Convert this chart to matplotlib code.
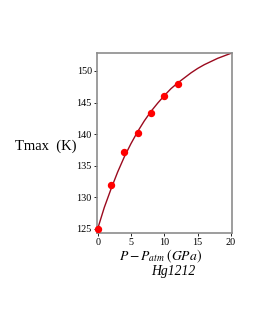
import matplotlib
matplotlib.use("Agg")
import matplotlib.pyplot as plt

# measured points
p_data = [0, 2, 4, 6, 8, 10, 12]
t_data = [125.0, 132.0, 137.1, 140.2, 143.4, 146.1, 148.0]

# fitted curve
p_curve = list(range(0, 21))
t_curve = [125.0, 128.4, 131.3, 134.0, 136.4, 138.5, 140.4, 142.1, 143.6, 144.9,
           146.1, 147.2, 148.1, 148.9, 149.7, 150.4, 151.0, 151.5, 152.0, 152.4, 152.8]

x_ticks = [0, 5, 10, 15, 20]
y_ticks = [125, 130, 135, 140, 145, 150]

plt.rcParams['font.family'] = ['Liberation Serif', 'DejaVu Serif']
plt.rcParams['mathtext.fontset'] = 'stix'

fig = plt.figure(figsize=(2.55, 3.3), dpi=100)
ax = fig.add_axes([0.379, 0.293, 0.532, 0.5455])

ax.plot(p_curve, t_curve, color='#9b0a1e', lw=1.0, zorder=2)
ax.plot(p_data, t_data, 'o', color='#ff0000', ms=4.3, zorder=3, clip_on=False)

ax.set_xlim(-0.15, 20.2)
ax.set_ylim(124.3, 152.8)
ax.set_xticks(x_ticks)
ax.set_yticks(y_ticks)
ax.tick_params(labelsize=7.3, length=2, width=0.6, pad=1.5, colors='black')
for s in ax.spines.values():
    s.set_color('#8c8c8c')
    s.set_linewidth(1.2)

fig.text(0.06, 0.557, 'Tmax  (K)', fontsize=10.5, ha='left', va='center')
fig.text(0.63, 0.224, r'$P - P_{atm}\;(GPa)$', fontsize=9.8, ha='center', va='center')
fig.text(0.678, 0.177, 'Hg1212', fontsize=9.8, fontstyle='italic',
         ha='center', va='center')

fig.savefig('out.png', dpi=100)
